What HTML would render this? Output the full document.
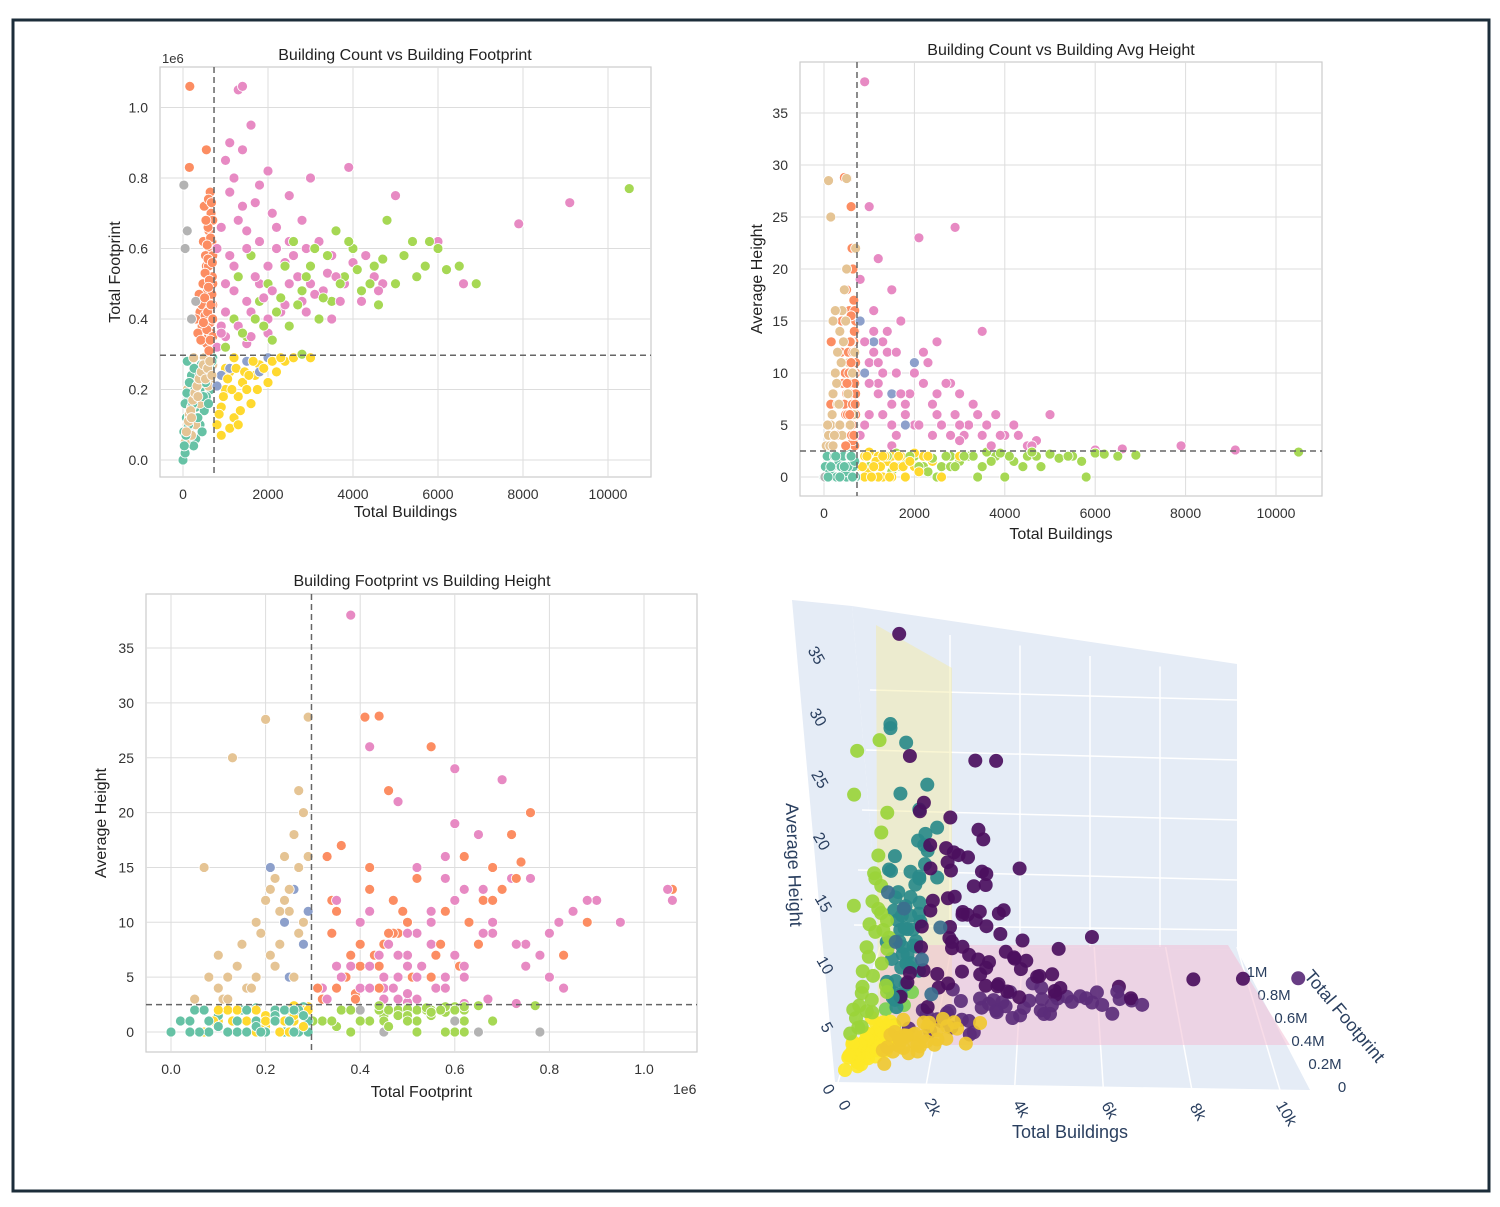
<!DOCTYPE html>
<html><head><meta charset="utf-8">
<style>
html,body{margin:0;padding:0;background:#fff;}
svg{display:block;font-family:"Liberation Sans","DejaVu Sans",sans-serif;}
</style></head>
<body>
<svg id="root" width="1500" height="1207" viewBox="0 0 1500 1207">
<rect x="13" y="20" width="1476" height="1171" fill="#fff" stroke="#1c2d3a" stroke-width="3"/>
<g id="p1"></g>
<g id="p2"></g>
<g id="p3"></g>
<g id="p4"></g>
</svg>
<script>
// ---------- data (buildings, footprint in millions, avg height) ----------
const buildings = [
600,650,500,700,550,620,680,450,400,580,690,530,610,660,500,640,350,300,700,560,620,600,520,450,680,700,590,470,640,420,160,150,550,700,380,660,600,480,
800,1000,1200,1500,1800,2000,2200,2500,2800,3000,3200,3500,3800,4000,4500,5000,1100,1300,1400,1600,1000,1200,1800,2500,3000,3900,9100,7900,1500,2100,2900,900,1000,1200,1700,2500,2000,1500,3500,4200,1100,2800,1400,2300,3300,6000,6600,4700,800,
1000,1200,1500,1800,2000,2200,2500,2800,3000,3200,3500,3800,4000,4200,4500,5000,5200,5500,6000,6500,6900,10500,4800,5800,1600,2600,3600,1300,
800,900,1000,1100,1200,1300,1400,1500,1600,1700,1800,2000,2200,2400,2600,2800,3000,900,1000,1200,1500,2000,
0,50,100,150,200,250,300,350,400,450,500,550,600,650,700,80,120,200,300,400,500,100,20,650,250,550,50,
50,100,150,200,250,300,350,400,450,500,550,600,650,100,150,200,300,400,500,600,700,250,
900,1100,1500,2000,1800,800,
20,50,100,300,200,
560,630,680,520,590,650,700,610,540,670,480,580,690,620,510,660,570,700,640,600,
900,1300,1600,1900,2100,2400,2700,3100,3400,3700,1000,1200,1500,1800,2200,2600,3000,1300,1700,2000,1400,1100,900,2400,3600,4300,4600,2900,1600,2000,
1400,1700,1900,2300,2700,2900,3300,3700,4100,4400,4700,5400,5700,6200,3100,2400,3900,2100,3400,4600,
850,950,1050,1150,1250,1350,1450,1550,1650,1750,1900,2100,2300,1100,1300,
30,70,130,180,230,280,330,380,430,480,530,580,630,680,150,350,450,600,90,260,
80,130,180,230,280,330,380,430,480,530,580,630,680,200,350
];
const footprint = [
0.35,0.40,0.45,0.50,0.55,0.60,0.32,0.38,0.42,0.48,0.52,0.58,0.65,0.70,0.72,0.76,0.36,0.40,0.44,0.33,0.46,0.55,0.41,0.44,0.62,0.68,0.66,0.50,0.39,0.34,1.06,0.83,0.88,0.58,0.47,0.36,0.74,0.62,
0.32,0.35,0.40,0.45,0.50,0.55,0.60,0.50,0.45,0.55,0.62,0.58,0.50,0.56,0.52,0.75,0.90,1.05,1.06,0.95,0.85,0.80,0.78,0.75,0.80,0.83,0.73,0.67,0.65,0.70,0.60,0.38,0.42,0.48,0.52,0.62,0.36,0.33,0.40,0.45,0.58,0.68,0.72,0.42,0.48,0.62,0.50,0.50,0.60,
0.32,0.40,0.35,0.45,0.50,0.42,0.38,0.48,0.55,0.40,0.45,0.52,0.60,0.48,0.55,0.50,0.58,0.52,0.60,0.55,0.50,0.77,0.68,0.62,0.58,0.62,0.65,0.52,
0.10,0.15,0.20,0.25,0.12,0.18,0.22,0.28,0.16,0.24,0.27,0.22,0.25,0.28,0.29,0.30,0.29,0.07,0.26,0.29,0.20,0.29,
0.00,0.02,0.05,0.08,0.10,0.12,0.15,0.18,0.20,0.22,0.25,0.27,0.28,0.29,0.29,0.12,0.18,0.24,0.06,0.10,0.14,0.28,0.08,0.20,0.04,0.18,0.16,
0.05,0.10,0.12,0.15,0.18,0.20,0.22,0.24,0.26,0.28,0.25,0.27,0.22,0.20,0.13,0.07,0.10,0.16,0.29,0.21,0.27,0.29,
0.24,0.26,0.28,0.29,0.25,0.21,
0.78,0.60,0.65,0.45,0.40,
0.37,0.43,0.47,0.53,0.57,0.63,0.35,0.31,0.68,0.73,0.39,0.42,0.56,0.51,0.46,0.44,0.61,0.40,0.34,0.49,
0.36,0.38,0.42,0.46,0.48,0.44,0.52,0.47,0.53,0.45,0.50,0.55,0.60,0.62,0.66,0.58,0.50,0.68,0.73,0.82,0.88,0.76,0.66,0.56,0.52,0.58,0.48,0.42,0.35,0.40,
0.36,0.40,0.38,0.46,0.44,0.52,0.46,0.50,0.54,0.50,0.57,0.62,0.55,0.54,0.60,0.55,0.62,0.34,0.58,0.44,
0.13,0.18,0.23,0.20,0.26,0.14,0.25,0.24,0.28,0.20,0.26,0.28,0.29,0.09,0.10,
0.04,0.07,0.10,0.14,0.16,0.20,0.22,0.25,0.27,0.18,0.22,0.24,0.26,0.28,0.22,0.12,0.08,0.16,0.19,0.26,
0.08,0.11,0.14,0.17,0.19,0.21,0.23,0.25,0.27,0.23,0.26,0.28,0.24,0.12,0.18
];
const height = [
4,6,8,10,5,12,3,7,15,9,14,11,8,13,18,20,5,4,6,16,22,26,28.7,28.8,16,15,12,10,3.5,9,13,7,10,4,12,17,15.5,6,
4,6,8,5,7,10,12,6,4,8,5,14,6,4,3,6,12,13,12,10,11,9,7,8,5,4,2.6,3,18,23,24,38,26,21,15,13,5,3,4,5,16,9,14,11,7,2.6,2.7,3.5,19,
1,2,0.5,1.5,2,1,0,2,1.5,2,1,2,0,1.5,2,2.2,1.8,2,2.3,2,2.1,2.4,1,0,2.3,1,2.4,0,
1,2,0.5,1,2,0,1.5,2,1,2,0,1,2,1.5,0,1,2,0,2.4,0,0,2.3,
0,1,2,0,1.5,0,2,1,0,2,1,0,2,1,0,0,1,0,0,2,0,2.3,1,0,0,2.2,0,
3,4,5,8,10,12,14,16,18,20,11,9,6,28.5,25,15,7,4,28.7,13,22,16,
10,13,8,11,5,15,
0,1,0,0,2,
5,7,9,6,8,10,11,4,12,14,3,13,7,5,9,4,6,8,12,11,
5,6,4,8,5,7,9,4,6,3,9,11,7,6,9,5,3.5,10,8,10,12,14,13,4,5,4,3,6,12,10,
2,1,2,0.5,2,1,2,1.5,2,1,2,2,1.5,2.2,2,1.8,2.3,1,0,2.4,
1,2,0,1.5,1,2,0,1,2,1,1.5,0.5,2,1,2,
1,2,0.5,1,2,0,1.5,1,2,0.5,1,2,0,1.5,1,0,1,2,0,2,
5,3,6,4,9,7,11,13,15,8,5,10,12,3,5
];
const thrBuildings = [730];
const thrFootprint = [0.297];
const thrHeight = [2.5];
const ticksBuildings = [0,2000,4000,6000,8000,10000];
const ticksFootprint = [0,0.2,0.4,0.6,0.8,1.0];
const ticksHeight = [0,5,10,15,20,25,30,35];
const ticks3dBuildings = [0,2000,4000,6000,8000,10000];
const ticks3dBuildingLabels = ["0","2k","4k","6k","8k","10k"];
const ticks3dFootprint = [0,0.2,0.4,0.6,0.8,1.0];
const ticks3dFootprintLabels = ["0","0.2M","0.4M","0.6M","0.8M","1M"];

const NS="http://www.w3.org/2000/svg";
function el(tag,attrs,parent){const e=document.createElementNS(NS,tag);for(const k in attrs)e.setAttribute(k,attrs[k]);parent.appendChild(e);return e;}

const set2={teal:"#66c2a5",orange:"#fc8d62",blue:"#8da0cb",pink:"#e78ac3",green:"#a6d854",yellow:"#ffd92f",tan:"#e5c494",gray:"#b3b3b3"};
const vir={teal:"#fde725",orange:"#2a8a8a",blue:"#3b6f8e",pink:"#4b0f5e",green:"#5b2c7a",yellow:"#f0c830",tan:"#9ad43a",gray:"#7ad151"};
function cat(i){
  const hb=buildings[i]>thrBuildings[0], hf=footprint[i]>thrFootprint[0], hh=height[i]>thrHeight[0];
  if(hh){ if(hf) return hb?"pink":"orange"; return hb?"blue":"tan"; }
  if(hf) return hb?"green":"gray";
  return hb?"yellow":"teal";
}

function scatter2d(g,cfg){
  const {box,xs,ys,xv,yv,xt,yt,xfmt,yfmt,title,xlab,ylab,tx,ty,thx,thy,xlabY,ylabX} = cfg;
  const bg=el("rect",{x:box[0],y:box[1],width:box[2],height:box[3],fill:"#fff",stroke:"#cccccc","stroke-width":1.2},g);
  
  
  xt.forEach(v=>{const x=xs(v);
    const gl=el("line",{x1:x,x2:x,y1:box[1],y2:box[1]+box[3],stroke:"#dddddd","stroke-width":1},g);
    
    
    const t=el("text",{x:x,y:box[1]+box[3]+22,"text-anchor":"middle","font-size":14,fill:"#333"},g);t.textContent=xfmt(v);
    
    });
  yt.forEach(v=>{const y=ys(v);
    const gl=el("line",{x1:box[0],x2:box[0]+box[2],y1:y,y2:y,stroke:"#dddddd","stroke-width":1},g);
    
    
    const t=el("text",{x:box[0]-12,y:y+5,"text-anchor":"end","font-size":14,fill:"#333"},g);t.textContent=yfmt(v);
    
    });
  for(let i=0;i<buildings.length;i++){
    const c=el("circle",{cx:xs(xv[i]),cy:ys(yv[i]),r:5,fill:set2[cat(i)],stroke:"#fff","stroke-width":0.8},g);
    
    }
  const vl=el("line",{x1:xs(thx),x2:xs(thx),y1:box[1],y2:box[1]+box[3],stroke:"#666","stroke-width":1.5,"stroke-dasharray":"6,4"},g);
  
  
  const hl=el("line",{x1:box[0],x2:box[0]+box[2],y1:ys(thy),y2:ys(thy),stroke:"#666","stroke-width":1.5,"stroke-dasharray":"6,4"},g);
  
  
  const t=el("text",{x:tx,y:ty,"text-anchor":"middle","font-size":16,fill:"#222"},g);t.textContent=title;
  
  
  const xl=el("text",{x:box[0]+box[2]/2,y:xlabY,"text-anchor":"middle","font-size":16,fill:"#222"},g);xl.textContent=xlab;
  
  
  const cy=box[1]+box[3]/2;
  const yl=el("text",{x:ylabX,y:cy,"text-anchor":"middle","font-size":16,fill:"#222",transform:`rotate(-90 ${ylabX} ${cy})`},g);yl.textContent=ylab;
  
  
}

scatter2d(document.getElementById("p1"),{box:[160,67,491,410],
  xs:v=>183+v*0.0425, ys:v=>460-v*352.5, xv:buildings, yv:footprint,
  xt:ticksBuildings, yt:ticksFootprint, xfmt:v=>String(v), yfmt:v=>v.toFixed(1),
  title:"Building Count vs Building Footprint", tx:405, ty:60, xlab:"Total Buildings", ylab:"Total Footprint",
  thx:thrBuildings[0], thy:thrFootprint[0], xlabY:517, ylabX:120});
{const t=el("text",{x:162,y:63,"font-size":13,fill:"#333"},document.getElementById("p1"));t.textContent="1e6";

}
scatter2d(document.getElementById("p2"),{box:[800,62,522,434],
  xs:v=>824+v*0.0452, ys:v=>477-v*10.4, xv:buildings, yv:height,
  xt:ticksBuildings, yt:ticksHeight, xfmt:v=>String(v), yfmt:v=>String(v),
  title:"Building Count vs Building Avg Height", tx:1061, ty:55, xlab:"Total Buildings", ylab:"Average Height",
  thx:thrBuildings[0], thy:thrHeight[0], xlabY:539, ylabX:762});
scatter2d(document.getElementById("p3"),{box:[146,594,551,458],
  xs:v=>171+v*473, ys:v=>1032-v*10.97, xv:footprint, yv:height,
  xt:ticksFootprint, yt:ticksHeight, xfmt:v=>v.toFixed(1), yfmt:v=>String(v),
  title:"Building Footprint vs Building Height", tx:422, ty:586, xlab:"Total Footprint", ylab:"Average Height",
  thx:thrFootprint[0], thy:thrHeight[0], xlabY:1097, ylabX:106});
{const t=el("text",{x:673,y:1094,"font-size":14,fill:"#333"},document.getElementById("p3"));t.textContent="1e6";

}

// ---------- 3D plot ----------
const g4=document.getElementById("p4");
function P(b,f,h){return [845+b*0.037+f*85-h*0.3, 1070+b*0.001-f*100-h*10.5];}
function poly(pts,attrs,name){const e=el("polygon",Object.assign({points:pts.map(p=>p.join(",")).join(" ")},attrs),g4);
  
  return e;}
poly([[792,600],[852,606],[880,945],[835,1082]],{fill:"#e5ecf6"},"left-wall");
poly([[852,606],[1237,664],[1237,950],[880,945]],{fill:"#e5ecf6"},"back-wall");
poly([[880,945],[1237,950],[1310,1090],[835,1082]],{fill:"#e5ecf6"},"floor");
[[870,690,1237,700],[866,750,1237,760],[862,810,1237,820],[858,870,1237,880],[854,925,1237,930]].forEach(l=>{
  const e=el("line",{x1:l[0],y1:l[1],x2:l[2],y2:l[3],stroke:"#fff","stroke-width":1.5},g4);
  
  });
[950,1020,1090,1160].forEach(x=>{
  const e=el("line",{x1:x,y1:620+(x-850)*0.15,x2:x,y2:947,stroke:"#fff","stroke-width":1.5},g4);
  
  });
ticks3dBuildings.forEach((v,i)=>{
  const x0=838+v*0.0442, y0=1082+v*0.0008;
  const e=el("line",{x1:x0,y1:y0,x2:880+v*0.0357,y2:947,stroke:"#fff","stroke-width":1.5},g4);
  
  
  const t=el("text",{x:x0+2,y:y0+26,"font-size":16,fill:"#2a3f5f","text-anchor":"middle",transform:`rotate(60 ${x0+2} ${y0+26})`},g4);
  t.textContent=ticks3dBuildingLabels[i];
  
  });
ticks3dFootprint.forEach((v,i)=>{
  const t=el("text",{x:1342-v*85,y:1092-v*115,"font-size":15,fill:"#2a3f5f","text-anchor":"middle"},g4);
  t.textContent=ticks3dFootprintLabels[i];
  
  });
ticksHeight.forEach(v=>{
  const x=824-v*0.35, y=1092-v*12.4;
  const t=el("text",{x:x,y:y,"font-size":16,fill:"#2a3f5f","text-anchor":"middle",transform:`rotate(60 ${x} ${y})`},g4);
  t.textContent=String(v);
  
  });
poly([[878,1062],[952,1040],[952,668],[876,625]],{fill:"#f3eba0","fill-opacity":0.45},"building-threshold-plane");
poly([[880,1045],[1290,1045],[1228,945],[880,945]],{fill:"#f2bfd6","fill-opacity":0.55},"height-threshold-plane");
const idx3=[];for(let i=0;i<buildings.length;i++)idx3.push(i);
idx3.sort((a,b)=>footprint[b]-footprint[a]);
idx3.forEach(i=>{const p=P(buildings[i],footprint[i],height[i]);
  const c=el("circle",{cx:p[0],cy:p[1],r:7,fill:vir[cat(i)],"fill-opacity":0.92},g4);
  
  });
{const t=el("text",{x:1070,y:1138,"font-size":18,fill:"#2a3f5f","text-anchor":"middle"},g4);t.textContent="Total Buildings";

}
{const t=el("text",{x:788,y:865,"font-size":18,fill:"#2a3f5f","text-anchor":"middle",transform:"rotate(88 788 865)"},g4);t.textContent="Average Height";

}
{const t=el("text",{x:1340,y:1020,"font-size":18,fill:"#2a3f5f","text-anchor":"middle",transform:"rotate(50 1340 1020)"},g4);t.textContent="Total Footprint";

}
</script>
</body></html>
